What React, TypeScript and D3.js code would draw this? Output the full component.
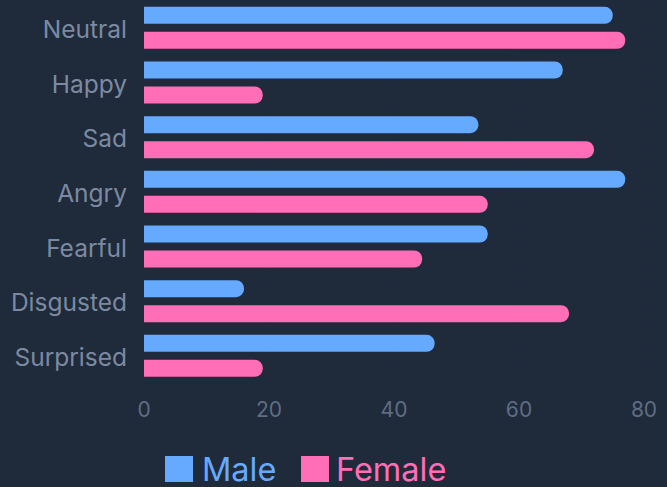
import React from "react";
import * as d3 from "d3";

const categories = ["Neutral", "Happy", "Sad", "Angry", "Fearful", "Disgusted", "Surprised"];
const series = ["Male", "Female"];
const maleValues = [75, 67, 53.5, 77, 55, 16, 46.5];
const femaleValues = [77, 19, 72, 55, 44.5, 68, 19];
const xTicks = [0, 20, 40, 60, 80];
const colors = ["#66aaff", "#ff6eb6"];

const W = 667;
const H = 487;

function barPath(x0: number, x1: number, y: number, h: number, r: number) {
  const rr = Math.min(r, (x1 - x0), h / 2);
  return `M${x0},${y}H${x1 - rr}A${rr},${rr} 0 0 1 ${x1},${y + rr}V${y + h - rr}A${rr},${rr} 0 0 1 ${x1 - rr},${y + h}H${x0}Z`;
}

export default function App() {
  const x = d3.scaleLinear().domain([0, 80]).range([144, 644]);
  const y = d3.scaleBand<string>().domain(categories).range([0.5, 383.2]).paddingInner(0).paddingOuter(0);
  const ys = d3.scaleBand<string>().domain(series).range([0, y.step()]).paddingInner(0.32).paddingOuter(0.253);
  const data = [maleValues, femaleValues];

  return (
    <div style={{ position: "fixed", left: 0, top: 0, width: W, height: H, background: "#1f2a3b" }}>
      <svg width={W} height={H} style={{ display: "block", fontFamily: "Inter, Roboto, sans-serif" }}>
        <rect x={0} y={0} width={W} height={H} fill="#1f2a3b" />
        {xTicks.map((t) => (
          <line key={"g" + t} x1={x(t)} x2={x(t)} y1={0} y2={385} stroke="#222e40" strokeWidth={1} strokeDasharray="2,3" />
        ))}
        {categories.map((c, i) => (
          <g key={c}>
            {series.map((s, j) => (
              <path
                key={s}
                d={barPath(x(0), x(data[j][i]), (y(c) as number) + (ys(s) as number), ys.bandwidth(), 8)}
                fill={colors[j]}
              />
            ))}
            <text
              x={127}
              y={(y(c) as number) + y.step() / 2 + 1}
              textAnchor="end"
              dominantBaseline="central"
              fontSize={24.5}
              fill="#7c8aa1"
            >
              {c}
            </text>
          </g>
        ))}
        {xTicks.map((t) => (
          <text key={t} x={x(t)} y={409} textAnchor="middle" dominantBaseline="central" fontSize={21} fill="#5f6d83">
            {t}
          </text>
        ))}
        <g>
          <rect x={165} y={456} width={28} height={26} fill={colors[0]} />
          <text x={202} y={469} dominantBaseline="central" fontSize={32.5} fill={colors[0]}>Male</text>
          <rect x={301} y={456} width={28} height={26} fill={colors[1]} />
          <text x={336} y={469} dominantBaseline="central" fontSize={32.5} fill={colors[1]}>Female</text>
        </g>
      </svg>
    </div>
  );
}
